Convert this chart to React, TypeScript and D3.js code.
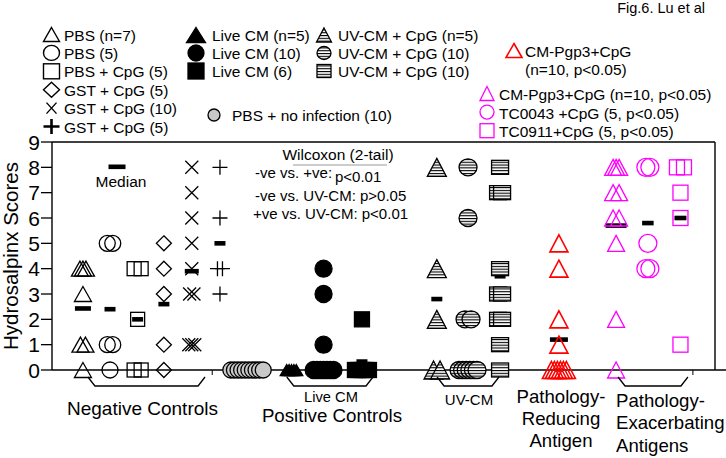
import React from 'react';
import * as d3 from 'd3';

// hydrosalpinx scores per mouse, one array per group
const pbsN7 = [4, 4, 4, 3, 1, 1, 0];
const pbs5 = [5, 5, 1, 1, 0];
const pbsCpg5 = [4, 4, 2, 0, 0];
const gstCpg5 = [5, 4, 3, 1, 0];
const gstCpg10 = [8, 7, 6, 5, 4, 3, 3, 1, 1, 1];
const gstCpg5b = [8, 6, 4, 4, 3];
const pbsNoInfection = [0, 0, 0, 0, 0, 0, 0, 0, 0, 0];
const liveCmN5 = [0, 0, 0, 0, 0];
const liveCm10 = [4, 3, 1, 0, 0, 0, 0, 0, 0, 0];
const liveCm6 = [2, 0, 0, 0, 0, 0];
const uvCmN5 = [8, 4, 2, 0, 0];
const uvCm10a = [8, 6, 2, 2, 0, 0, 0, 0, 0, 0];
const uvCm10b = [8, 7, 7, 4, 3, 3, 2, 2, 1, 0];
const pgp3Reducing = [5, 4, 2, 1, 0, 0, 0, 0, 0, 0];
const pgp3Exacerbating = [8, 8, 8, 7, 7, 6, 6, 5, 2, 0];
const tc0043 = [8, 8, 5, 4, 4];
const tc0911 = [8, 8, 7, 6, 1];

const yTicks = [0, 1, 2, 3, 4, 5, 6, 7, 8, 9];
const xMinorTicks = [5.8, 23.2];

const legendCol1 = ['PBS (n=7)', 'PBS (5)', 'PBS + CpG (5)', 'GST + CpG (5)', 'GST + CpG (10)', 'GST + CpG (5)'];
const legendCol2 = ['Live CM (n=5)', 'Live CM (10)', 'Live CM (6)'];
const legendCol3 = ['UV-CM + CpG (n=5)', 'UV-CM + CpG (10)', 'UV-CM + CpG (10)'];
const legendMagenta = ['CM-Pgp3+CpG (n=10, p<0.05)', 'TC0043 +CpG (5, p<0.05)', 'TC0911+CpG (5, p<0.05)'];
const statLines = ['-ve vs. +ve:', '-ve vs. UV-CM: p>0.05', '+ve vs. UV-CM: p<0.01'];

const RED = '#ff0000';
const MAG = '#ff00ff';
const FONT = '"Liberation Sans", Arial, sans-serif';

type Style = {
  shape: string; fill: string; stroke: string; w: number; h: number;
  step2: number; stepN: number; barW: number; sw?: number;
};

// group layout: position on x (slot units) + marker style
const groups: { values: number[]; pos: number; st: Style }[] = [
  { values: pbsN7, pos: 1.12, st: { shape: 'tri', fill: 'none', stroke: '#000', w: 17, h: 15, step2: 5, stepN: 3, barW: 16 } },
  { values: pbs5, pos: 2.1, st: { shape: 'circle', fill: 'none', stroke: '#000', w: 16, h: 16, step2: 5.5, stepN: 4, barW: 11 } },
  { values: pbsCpg5, pos: 3.1, st: { shape: 'square', fill: 'none', stroke: '#000', w: 14, h: 14, step2: 7, stepN: 4, barW: 11 } },
  { values: gstCpg5, pos: 4.05, st: { shape: 'diamond', fill: 'none', stroke: '#000', w: 15, h: 15, step2: 5, stepN: 4, barW: 11 } },
  { values: gstCpg10, pos: 5.06, st: { shape: 'x', fill: 'none', stroke: '#000', w: 13, h: 13, step2: 4.3, stepN: 3, barW: 14 } },
  { values: gstCpg5b, pos: 6.08, st: { shape: 'plus', fill: 'none', stroke: '#000', w: 15, h: 15, step2: 5, stepN: 4, barW: 11 } },
  { values: pbsNoInfection, pos: 7.06, st: { shape: 'circle', fill: '#c8c8c8', stroke: '#000', w: 16, h: 16, step2: 4, stepN: 3.6, barW: 11 } },
  { values: liveCmN5, pos: 8.67, st: { shape: 'tri', fill: '#000', stroke: '#000', w: 13, h: 11, step2: 3, stepN: 2.4, barW: 11 } },
  { values: liveCm10, pos: 9.83, st: { shape: 'circle', fill: '#000', stroke: '#000', w: 17, h: 17, step2: 4, stepN: 3.3, barW: 11 } },
  { values: liveCm6, pos: 11.22, st: { shape: 'square', fill: '#000', stroke: '#000', w: 15, h: 15, step2: 4, stepN: 3.5, barW: 11 } },
  { values: uvCmN5, pos: 13.93, st: { shape: 'tri', fill: 'url(#hstripe)', stroke: '#000', w: 19, h: 18, step2: 6.5, stepN: 4, barW: 11 } },
  { values: uvCm10a, pos: 15.06, st: { shape: 'circle', fill: 'url(#hstripe)', stroke: '#000', w: 18, h: 17, step2: 6, stepN: 3.6, barW: 11 } },
  { values: uvCm10b, pos: 16.22, st: { shape: 'square', fill: 'url(#hstripe)', stroke: '#000', w: 17, h: 14, step2: 4, stepN: 4, barW: 11 } },
  { values: pgp3Reducing, pos: 18.35, st: { shape: 'tri', fill: 'none', stroke: RED, w: 18, h: 17, step2: 4, stepN: 3, barW: 18, sw: 1.6 } },
  { values: pgp3Exacerbating, pos: 20.42, st: { shape: 'tri', fill: 'none', stroke: MAG, w: 17, h: 16, step2: 6, stepN: 3, barW: 21 } },
  { values: tc0043, pos: 21.57, st: { shape: 'circle', fill: 'none', stroke: MAG, w: 18, h: 18, step2: 4, stepN: 4, barW: 11.5 } },
  { values: tc0911, pos: 22.75, st: { shape: 'square', fill: 'none', stroke: MAG, w: 15, h: 15, step2: 7, stepN: 4, barW: 12 } },
];

const brackets = [
  { from: 1.3, to: 5.54 },
  { from: 8.5, to: 11.62 },
  { from: 13.94, to: 16.18 },
  { from: 20.49, to: 23.02 },
];

function Marker({ st, cx, cy, scale = 1 }: { st: Style; cx: number; cy: number; scale?: number }) {
  const w = st.w * scale, h = st.h * scale;
  const sw = st.sw ?? 1.3;
  const common = { fill: st.fill, stroke: st.stroke, strokeWidth: sw };
  let el: React.ReactNode = null;
  if (st.shape === 'tri') {
    el = <path d={`M0,${-h / 2}L${w / 2},${h / 2}L${-w / 2},${h / 2}Z`} {...common} strokeLinejoin="miter" />;
  } else if (st.shape === 'circle') {
    el = <ellipse rx={w / 2} ry={h / 2} {...common} />;
  } else if (st.shape === 'square') {
    el = <rect x={-w / 2} y={-h / 2} width={w} height={h} {...common} />;
  } else if (st.shape === 'diamond') {
    el = <path d={`M0,${-h / 2}L${w / 2},0L0,${h / 2}L${-w / 2},0Z`} {...common} />;
  } else if (st.shape === 'x') {
    el = <path d={`M${-w / 2},${-h / 2}L${w / 2},${h / 2}M${-w / 2},${h / 2}L${w / 2},${-h / 2}`} fill="none" stroke={st.stroke} strokeWidth={sw} />;
  } else if (st.shape === 'plus') {
    el = <path d={`M${-w / 2},0H${w / 2}M0,${-h / 2}V${h / 2}`} fill="none" stroke={st.stroke} strokeWidth={sw} />;
  }
  return <g transform={`translate(${cx},${cy})`}>{el}</g>;
}

export default function App() {
  const x = d3.scaleLinear().domain([0, 24]).range([52, 715]);
  const y = d3.scaleLinear().domain([0, 9]).range([370, 142]);

  const points = groups.map((g) => {
    const counts = d3.rollup(g.values, (v) => v.length, (d) => d);
    const seen = new Map<number, number>();
    // highest values first, duplicates spread sideways
    return g.values.map((v) => {
      const k = counts.get(v) ?? 1;
      const i = seen.get(v) ?? 0;
      seen.set(v, i + 1);
      const step = k === 2 ? g.st.step2 : g.st.stepN;
      return { cx: x(g.pos) + (i - (k - 1) / 2) * step, cy: y(v) };
    });
  });

  const col1Styles: Style[] = groups.slice(0, 6).map((g) => g.st);
  const col2Styles: Style[] = groups.slice(7, 10).map((g) => g.st);
  const col3Styles: Style[] = groups.slice(10, 13).map((g) => g.st);
  const magStyles: Style[] = groups.slice(14, 17).map((g) => g.st);

  return (
    <svg width={726} height={458} style={{ position: 'absolute', left: 0, top: 0 }} fontFamily={FONT}>
      <defs>
        <pattern id="hstripe" patternUnits="userSpaceOnUse" width={4} height={2.8}>
          <rect width={4} height={2.8} fill="#fff" />
          <rect y={0} width={4} height={1.1} fill="#000" />
        </pattern>
      </defs>
      <rect width={726} height={458} fill="#fff" />

      {/* frame */}
      <line x1={x(0)} x2={715} y1={y(9)} y2={y(9)} stroke="#000" strokeWidth={1.4} />
      <line x1={715} x2={715} y1={y(9)} y2={y(0)} stroke="#000" strokeWidth={1.4} />
      <line x1={x(0)} x2={x(0)} y1={y(9)} y2={y(0)} stroke="#000" strokeWidth={1.4} />
      <line x1={x(0)} x2={726} y1={y(0)} y2={y(0)} stroke="#000" strokeWidth={1.4} />
      {yTicks.map((t) => (
        <g key={t}>
          <line x1={x(0) - 11} x2={x(0)} y1={y(t)} y2={y(t)} stroke="#000" strokeWidth={1.3} />
          <text x={x(0) - 12} y={y(t) + 7.5} fontSize={21} textAnchor="end">{t}</text>
        </g>
      ))}
      {xMinorTicks.map((t) => (
        <line key={t} x1={x(t)} x2={x(t)} y1={y(0)} y2={y(0) + 5} stroke="#000" strokeWidth={1} />
      ))}
      <text transform="translate(18,256) rotate(-90)" fontSize={20.5} textAnchor="middle">Hydrosalpinx Scores</text>

      {/* group means */}
      {groups.map((g, gi) => {
        const m = d3.mean(g.values) ?? 0;
        return <rect key={gi} x={x(g.pos) - g.st.barW / 2} y={y(m) - 2.3} width={g.st.barW} height={4.6} fill="#000" />;
      })}

      {/* points */}
      {groups.map((g, gi) => (
        <g key={gi}>
          {points[gi].map((p, pi) => <Marker key={pi} st={g.st} cx={p.cx} cy={p.cy} />)}
        </g>
      ))}

      {/* median key */}
      <rect x={108.5} y={164.5} width={17} height={4.6} fill="#000" />
      <text x={121} y={187} fontSize={15.5} textAnchor="middle">Median</text>

      {/* stats */}
      <text x={338} y={159.5} fontSize={15.5} textAnchor="middle">Wilcoxon (2-tail)</text>
      <line x1={293} x2={387} y1={165} y2={165} stroke="#999" strokeWidth={1} />
      <text x={255} y={178} fontSize={15}>{statLines[0]}</text>
      <text x={335} y={182} fontSize={15}>p&lt;0.01</text>
      <text x={255} y={200.5} fontSize={15}>{statLines[1]}</text>
      <text x={253} y={218.5} fontSize={15}>{statLines[2]}</text>

      {/* brackets */}
      {brackets.map((b, i) => (
        <path key={i} d={`M${x(b.from)},377L${x(b.from) + 7},386H${x(b.to) - 7}L${x(b.to)},377`} fill="none" stroke="#000" strokeWidth={1.3} />
      ))}
      <text x={142.5} y={414.5} fontSize={19} textAnchor="middle">Negative Controls</text>
      <text x={331} y={402} fontSize={14.7} textAnchor="middle">Live CM</text>
      <text x={332} y={422} fontSize={18.7} textAnchor="middle">Positive Controls</text>
      <text x={469} y={405} fontSize={15} textAnchor="middle">UV-CM</text>
      <text x={561} y={403} fontSize={18.6} textAnchor="middle">Pathology-</text>
      <text x={561} y={425} fontSize={18.6} textAnchor="middle">Reducing</text>
      <text x={561} y={447} fontSize={18.6} textAnchor="middle">Antigen</text>
      <text x={616} y={407} fontSize={18.6}>Pathology-</text>
      <text x={616} y={429} fontSize={18.6}>Exacerbating</text>
      <text x={616} y={452} fontSize={18.6}>Antigens</text>

      {/* legend */}
      <text x={705} y={13} fontSize={14.5} textAnchor="end">Fig.6. Lu et al</text>
      {legendCol1.map((t, i) => (
        <g key={t + i}>
          <Marker st={{ ...col1Styles[i], sw: i === 5 ? 2.6 : 1.4, w: i === 4 ? 10 : 16, h: i === 4 ? 11 : (i === 0 ? 14 : 15) }} cx={51.5} cy={34.5 + i * 18.4} />
          <text x={i === 4 ? 64 : 64} y={40.5 + i * 18.4} fontSize={15.5}>{t}</text>
        </g>
      ))}
      {legendCol2.map((t, i) => (
        <g key={t}>
          <Marker st={{ ...col2Styles[i], w: i === 0 ? 19 : 16, h: i === 0 ? 15 : 16 }} cx={196} cy={35 + i * 18} />
          <text x={212} y={40.5 + i * 18} fontSize={15.5}>{t}</text>
        </g>
      ))}
      {legendCol3.map((t, i) => (
        <g key={t + i}>
          <Marker st={{ ...col3Styles[i], w: i === 0 ? 15 : 14, h: i === 0 ? 14 : 13 }} cx={324} cy={35 + i * 18} />
          <text x={338} y={40.5 + i * 18} fontSize={15.5}>{t}</text>
        </g>
      ))}
      <Marker st={{ ...groups[6].st, w: 12, h: 12 }} cx={214} cy={115} />
      <text x={232} y={121} fontSize={15.5}>PBS + no infection (10)</text>
      <Marker st={{ ...groups[13].st, w: 16, h: 14 }} cx={514} cy={50.5} />
      <text x={525} y={57} fontSize={15.5}>CM-Pgp3+CpG</text>
      <text x={525} y={75} fontSize={15.5}>(n=10, p&lt;0.05)</text>
      {legendMagenta.map((t, i) => (
        <g key={t}>
          <Marker st={{ ...magStyles[i], w: 14, h: 14 }} cx={487} cy={93.5 + i * 18.6} />
          <text x={499} y={100 + i * 18.6} fontSize={15.5}>{t}</text>
        </g>
      ))}
    </svg>
  );
}
